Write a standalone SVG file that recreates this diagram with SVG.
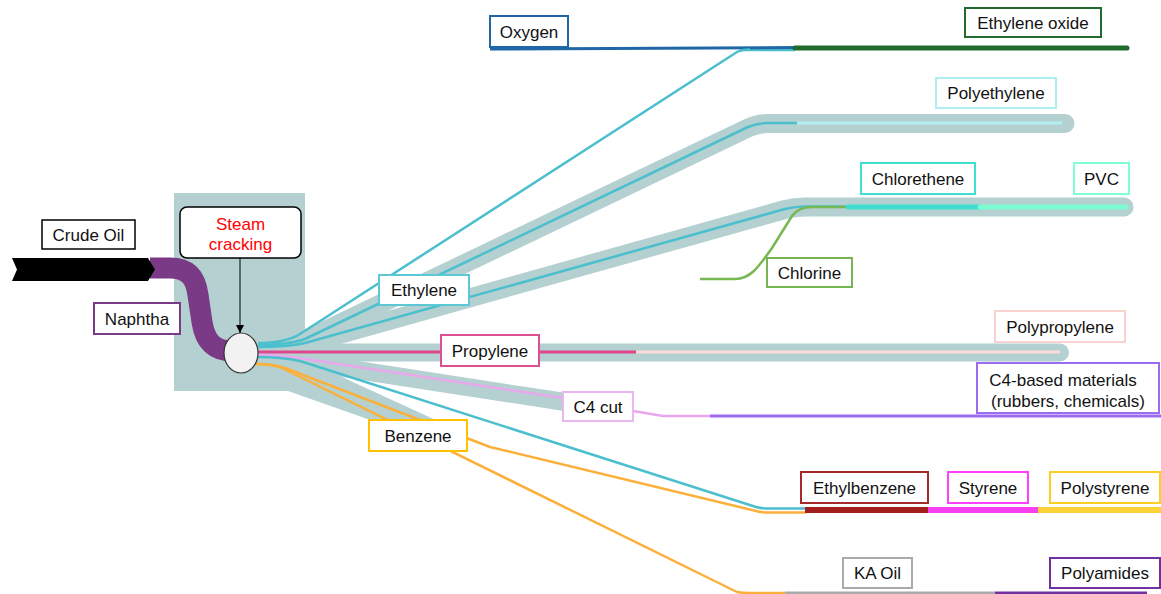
<svg xmlns="http://www.w3.org/2000/svg" width="1161" height="594" viewBox="0 0 1161 594">
<defs>
<style>
.band{fill:none;stroke:#b5d0d1;stroke-linecap:round;stroke-linejoin:round}
.ln{fill:none;stroke-linejoin:round}
.box{fill:#ffffff;stroke-width:2}
.t{font-family:"Liberation Sans",Arial,sans-serif;font-size:17px;fill:#111;text-anchor:middle}
</style>
<marker id="ah" markerWidth="10" markerHeight="10" refX="8" refY="5" orient="auto" markerUnits="userSpaceOnUse">
<path d="M0,1 L8,5 L0,9 Z" fill="#000"/>
</marker>
</defs>
<rect width="1161" height="594" fill="#ffffff"/>

<g id="background">
<rect x="174" y="193" width="131" height="198" fill="#b5d0d1"/>
<polygon points="288,391 305,360 440,422 376,422" fill="#b5d0d1"/>
<path class="band" stroke-width="19" d="M290,345 L305,340 L748,128 Q757,123.5 768,123.5 H1065"/>
<path class="band" stroke-width="19" d="M290,347 L305,344 L785,209.5 Q795,207 805,207 H1124"/>
<path class="band" stroke-width="18" d="M258,352.5 H1060"/>
<path class="band" stroke-width="18" stroke-linecap="butt" d="M280,358 L292,360 L565,402"/>
</g>

<g id="feed">
<path d="M150,268 H170 C190,268 196,280 198,295 L202,322 C205,342 215,351 232,351" fill="none" stroke="#7a3a86" stroke-width="21"/>
<polygon points="12,258 148,258 155,269.5 148,281 12,281 17,269.5" fill="#000"/>
</g>

<g id="connectors">
<!-- oxygen / ethylene oxide -->
<path class="ln" stroke="#4bbfcd" stroke-width="2.5" d="M740,50 H795"/>
<path class="ln" stroke="#1f67a6" stroke-width="3" d="M490,49 L795,47.5"/>
<path class="ln" stroke="#226b2e" stroke-width="5" stroke-linecap="round" d="M795,48 H1127"/>
<path class="ln" stroke="#4bbfcd" stroke-width="2.5" d="M258,343 Q286,343 300,334 L737,52 Q742,49.5 750,49.5"/>
<!-- polyethylene -->
<path class="ln" stroke="#4bbfcd" stroke-width="2.5" d="M258,345 Q288,345 305,339 L748,127 Q757,123 768,123 H797"/>
<path class="ln" stroke="#b2eef2" stroke-width="3" d="M797,123 H1062"/>
<!-- PVC -->
<path class="ln" stroke="#4bbfcd" stroke-width="2.5" d="M258,347 Q288,347 305,343 L785,209 Q795,206.5 805,206.5 H848"/>
<path class="ln" stroke="#76b852" stroke-width="2.5" d="M700,279 H735 C750,279 758,268 772,248 L792,216 C797,209 803,207 812,207 H848"/>
<path class="ln" stroke="#3fdccf" stroke-width="5" stroke-linecap="round" d="M848,207 H980"/>
<path class="ln" stroke="#7cfcd2" stroke-width="5" stroke-linecap="round" d="M980,207 H1126"/>
<!-- propylene -->
<path class="ln" stroke="#fbdcd8" stroke-width="3" d="M636,352 H1060"/>
<path class="ln" stroke="#e0468e" stroke-width="3" d="M258,352 H636"/>
<!-- C4 -->
<path class="ln" stroke="#eaa8ec" stroke-width="2.5" d="M258,355 Q280,355 292,357 L563,398"/>
<path class="ln" stroke="#eaa8ec" stroke-width="2.5" d="M633,411 L663,416 H710"/>
<path class="ln" stroke="#9b6bf2" stroke-width="3" d="M710,416 H1161"/>
<!-- ethylbenzene -->
<path class="ln" stroke="#4bbfcd" stroke-width="2.5" d="M258,357 Q282,357 300,361 L756,507 Q761,508.5 768,508.5 H806"/>
<path class="ln" stroke="#fbb03b" stroke-width="2.5" d="M256,364 Q272,364 285,368 L490,447 L756,511 Q761,512.5 768,512.5 H806"/>
<path class="ln" stroke="#fbb03b" stroke-width="2.5" d="M256,364 Q272,364 282,368 L737,592 Q742,593 750,593 H785"/>
<path class="ln" stroke="#a31d1d" stroke-width="6" d="M805,510 H928"/>
<path class="ln" stroke="#f53ff0" stroke-width="6" d="M928,510 H1038"/>
<path class="ln" stroke="#fdd238" stroke-width="6" d="M1038,510 H1161"/>
<path class="ln" stroke="#aaaaaa" stroke-width="3" d="M785,593 H995"/>
<path class="ln" stroke="#7030a0" stroke-width="3" d="M995,593 H1147"/>
<!-- steam cracking arrow -->
<line x1="240" y1="258" x2="240" y2="333" stroke="#000" stroke-width="1" marker-end="url(#ah)"/>
</g>

<g id="cracker">
<ellipse cx="241" cy="353" rx="17" ry="20" fill="#f2f2f2" stroke="#333" stroke-width="1.2"/>
</g>

<g id="crude-oil"><rect class="box" x="42" y="220" width="93" height="29" stroke="#000" style="stroke-width:1.5"/><text class="t" x="88.5" y="241">Crude Oil</text></g>
<g id="naphtha"><rect class="box" x="94" y="303" width="86" height="31" stroke="#7a3a86"/><text class="t" x="137" y="325">Naphtha</text></g>
<g id="steam-cracking"><rect class="box" x="180" y="207" width="121" height="51" rx="7" stroke="#000" style="stroke-width:1.5"/><text class="t" x="240.5" y="230" style="fill:#ff0000">Steam</text><text class="t" x="240.5" y="250" style="fill:#ff0000">cracking</text></g>
<g id="oxygen"><rect class="box" x="490" y="16" width="78" height="31" stroke="#1f67a6"/><text class="t" x="529" y="38">Oxygen</text></g>
<g id="ethylene-oxide"><rect class="box" x="965" y="8" width="136" height="29" stroke="#226b2e"/><text class="t" x="1033" y="28.5">Ethylene oxide</text></g>
<g id="polyethylene"><rect class="box" x="936" y="78" width="120" height="30" stroke="#aeeef2"/><text class="t" x="996" y="99">Polyethylene</text></g>
<g id="chlorethene"><rect class="box" x="861" y="163" width="114" height="31" stroke="#40e0d0"/><text class="t" x="918" y="185">Chlorethene</text></g>
<g id="pvc"><rect class="box" x="1074" y="163" width="55" height="31" stroke="#7fffd4"/><text class="t" x="1101.5" y="185">PVC</text></g>
<g id="chlorine"><rect class="box" x="767" y="258" width="85" height="29" stroke="#77b552"/><text class="t" x="809.5" y="279">Chlorine</text></g>
<g id="ethylene"><rect class="box" x="379" y="275" width="90" height="30" stroke="#5bc8d6"/><text class="t" x="424" y="296">Ethylene</text></g>
<g id="propylene"><rect class="box" x="441" y="335" width="98" height="31" stroke="#dc4f90"/><text class="t" x="490" y="357">Propylene</text></g>
<g id="polypropylene"><rect class="box" x="995" y="311" width="130" height="31" stroke="#f8d3cf"/><text class="t" x="1060" y="333">Polypropylene</text></g>
<g id="c4-materials"><rect class="box" x="977" y="363" width="182" height="50" stroke="#9b6bf2"/><text class="t" x="1063" y="386">C4-based materials</text><text class="t" x="1068" y="407"> (rubbers, chemicals)</text></g>
<g id="c4-cut"><rect class="box" x="563" y="392" width="70" height="29" stroke="#ebb5ef"/><text class="t" x="598" y="413">C4 cut</text></g>
<g id="benzene"><rect class="box" x="369" y="420" width="98" height="31" stroke="#ffc000"/><text class="t" x="418" y="442">Benzene</text></g>
<g id="ethylbenzene"><rect class="box" x="801" y="472" width="127" height="31" stroke="#a52a2a"/><text class="t" x="864.5" y="494">Ethylbenzene</text></g>
<g id="styrene"><rect class="box" x="948" y="472" width="80" height="31" stroke="#ff40ff"/><text class="t" x="988" y="494">Styrene</text></g>
<g id="polystyrene"><rect class="box" x="1050" y="472" width="110" height="31" stroke="#ffcc22"/><text class="t" x="1105" y="494">Polystyrene</text></g>
<g id="ka-oil"><rect class="box" x="843" y="558" width="69" height="30" stroke="#aaaaaa"/><text class="t" x="877.5" y="579">KA Oil</text></g>
<g id="polyamides"><rect class="box" x="1050" y="558" width="110" height="30" stroke="#7030a0"/><text class="t" x="1105" y="579">Polyamides</text></g>
</svg>
